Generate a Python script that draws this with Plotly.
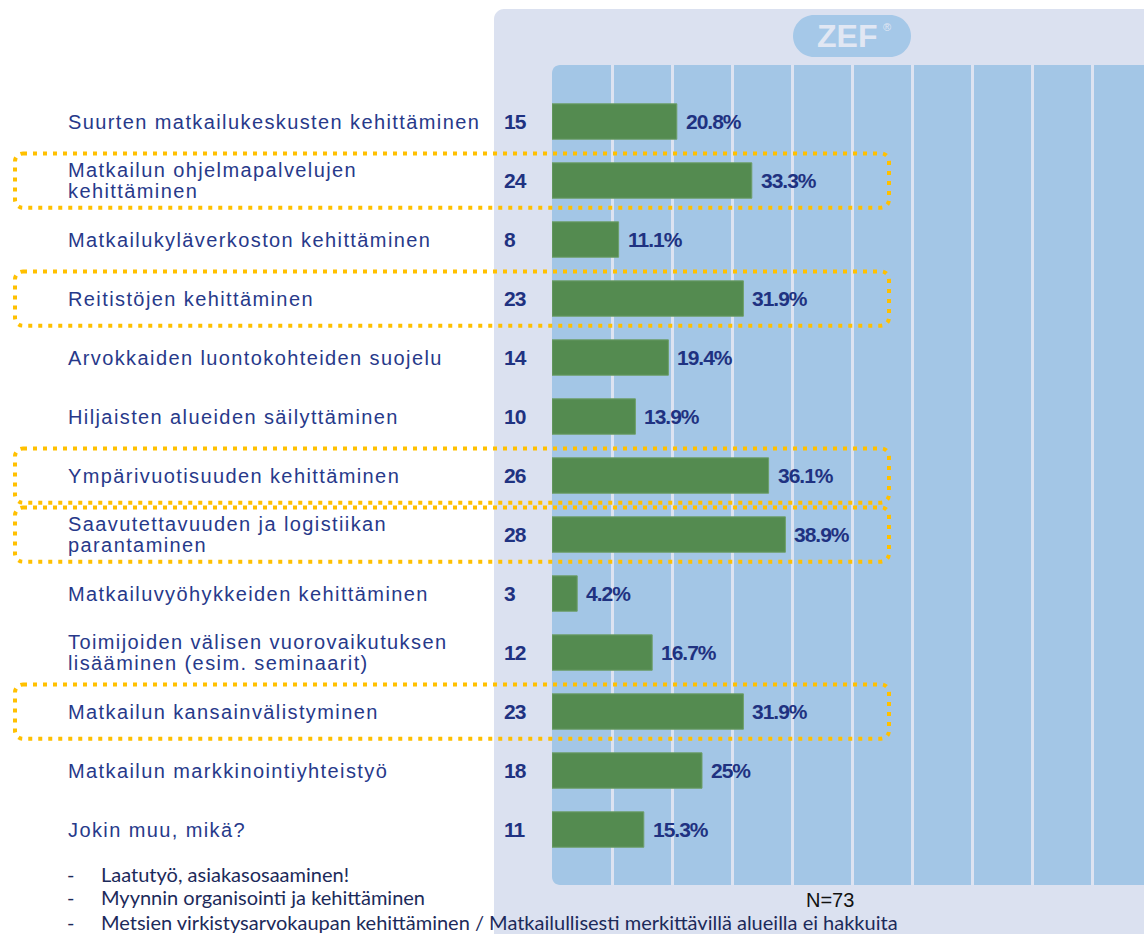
import plotly.graph_objects as go

# ---------------- data ----------------
categories = [
    "Suurten matkailukeskusten kehittäminen",
    "Matkailun ohjelmapalvelujen<br>kehittäminen",
    "Matkailukyläverkoston kehittäminen",
    "Reitistöjen kehittäminen",
    "Arvokkaiden luontokohteiden suojelu",
    "Hiljaisten alueiden säilyttäminen",
    "Ympärivuotisuuden kehittäminen",
    "Saavutettavuuden ja logistiikan<br>parantaminen",
    "Matkailuvyöhykkeiden kehittäminen",
    "Toimijoiden välisen vuorovaikutuksen<br>lisääminen (esim. seminaarit)",
    "Matkailun kansainvälistyminen",
    "Matkailun markkinointiyhteistyö",
    "Jokin muu, mikä?",
]
counts = [15, 24, 8, 23, 14, 10, 26, 28, 3, 12, 23, 18, 11]
percents = [20.8, 33.3, 11.1, 31.9, 19.4, 13.9, 36.1, 38.9, 4.2, 16.7, 31.9, 25, 15.3]
pct_labels = ["20.8%", "33.3%", "11.1%", "31.9%", "19.4%", "13.9%", "36.1%",
              "38.9%", "4.2%", "16.7%", "31.9%", "25%", "15.3%"]
highlighted_rows = [1, 3, 6, 7, 10]
comments = [
    "Laatutyö, asiakasosaaminen!",
    "Myynnin organisointi ja kehittäminen",
    "Metsien virkistysarvokaupan kehittäminen / Matkailullisesti merkittävillä alueilla ei hakkuita",
]
respondents_label = "N=73"
grid_ticks = [10, 20, 30, 40, 50, 60, 70, 80, 90]

# ---------------- styles ----------------
W, H = 1144, 934
ML, MR, MT, MB = 552, 0, 65, 49
PW, PH = W - ML - MR, H - MT - MB
X_MAX = PW / 6.0
Y_TOP, Y_BOT = -0.958, 12.94

PANEL = "#dbe1f0"
PLOT_BG = "#a3c6e6"
GRID = "#dde3f1"
BAR = "#548b50"
BAR_EDGE = "#6e9f6a"
NAVY = "#27398a"
NAVY_B = "#1f3281"
GOLD = "#ffc000"
K = 0.5523


def px(x):
    return (x - ML) / PW


def py(y):
    return (H - MB - y) / PH


def rounded_path(x0, y0, x1, y1, rx, ry, corners=(1, 1, 1, 1)):
    """x0<x1; y0 = top edge, y1 = bottom edge in target units."""
    s = 1 if y1 > y0 else -1
    tl, tr, br, bl = [(rx * c, ry * c) for c in corners]
    p = []
    p.append(f"M{x0 + tl[0]},{y0}")
    p.append(f"L{x1 - tr[0]},{y0}")
    p.append(f"C{x1 - tr[0] + K * tr[0]},{y0} {x1},{y0 + s * tr[1] * (1 - K)} {x1},{y0 + s * tr[1]}")
    p.append(f"L{x1},{y1 - s * br[1]}")
    p.append(f"C{x1},{y1 - s * br[1] * (1 - K)} {x1 - br[0] * (1 - K)},{y1} {x1 - br[0]},{y1}")
    p.append(f"L{x0 + bl[0]},{y1}")
    p.append(f"C{x0 + bl[0] * (1 - K)},{y1} {x0},{y1 - s * bl[1] * (1 - K)} {x0},{y1 - s * bl[1]}")
    p.append(f"L{x0},{y0 + s * tl[1]}")
    p.append(f"C{x0},{y0 + s * tl[1] * (1 - K)} {x0 + tl[0] * (1 - K)},{y0} {x0 + tl[0]},{y0}")
    p.append("Z")
    return " ".join(p)


def prr(x0, y0, x1, y1, r, corners=(1, 1, 1, 1)):
    return rounded_path(px(x0), py(y0), px(x1), py(y1), r / PW, r / PH, corners)


row_ids = list(range(len(categories)))

fig = go.Figure()
fig.add_trace(go.Bar(
    x=percents, y=row_ids, orientation="h", width=0.6,
    marker=dict(color=BAR, line=dict(color=BAR_EDGE, width=1)),
    hoverinfo="skip", showlegend=False,
))

shapes = []
# outer light panel
shapes.append(dict(type="path", xref="paper", yref="paper", layer="below",
                   path=prr(494, 9, 1160, 950, 10, (1, 0, 0, 0)),
                   fillcolor=PANEL, line=dict(width=0)))
# inner plot area
shapes.append(dict(type="path", xref="paper", yref="paper", layer="below",
                   path=prr(552, 65, 1160, 885, 8, (1, 0, 0, 1)),
                   fillcolor=PLOT_BG, line=dict(width=0)))
# ZEF pill
shapes.append(dict(type="path", xref="paper", yref="paper", layer="below",
                   path=prr(793, 15, 911, 57, 21),
                   fillcolor="#a5c8e8", line=dict(width=0)))

# dotted highlight boxes (x in paper, y in data units)
ry_data = 8 / (PH / (Y_BOT - Y_TOP))
for r in highlighted_rows:
    shapes.append(dict(type="path", xref="paper", yref="y", layer="above",
                       path=rounded_path(px(15), r - 0.46, px(889), r + 0.46, 8 / PW, ry_data),
                       fillcolor="rgba(0,0,0,0)",
                       line=dict(color=GOLD, width=4, dash="4px,6px")))

annotations = []
LS = "letter-spacing:1.4px"
NUM_STYLE = "letter-spacing:-1px"
for i, lab in enumerate(categories):
    lines = lab.split("<br>")
    n = len(lines)
    for j, ln in enumerate(lines):
        shift = (n - 1) / 2 * 21 - j * 21
        annotations.append(dict(
            x=px(66), xref="paper", y=i, yref="y", xanchor="left", yanchor="middle",
            yshift=shift, showarrow=False,
            text=f'<span style="{LS}">{ln}</span>',
            font=dict(family="Arial, Liberation Sans, sans-serif", size=20, color=NAVY),
        ))
    annotations.append(dict(
        x=px(502), xref="paper", y=i, yref="y", xanchor="left", yanchor="middle",
        showarrow=False, text=f'<span style="{NUM_STYLE}"><b>{counts[i]}</b></span>',
        font=dict(family="Arial, Liberation Sans, sans-serif", size=21, color=NAVY_B),
    ))
    annotations.append(dict(
        x=percents[i], xref="x", y=i, yref="y", xanchor="left", yanchor="middle",
        xshift=7, showarrow=False, text=f'<span style="{NUM_STYLE}"><b>{pct_labels[i]}</b></span>',
        font=dict(family="Arial, Liberation Sans, sans-serif", size=21, color=NAVY_B),
    ))

# ZEF logo text
annotations.append(dict(x=px(847), y=py(36), xref="paper", yref="paper", showarrow=False,
                        text="<b>ZEF</b>", xanchor="center", yanchor="middle",
                        font=dict(family="Arial, Liberation Sans", size=32, color="#e1e7f3")))
annotations.append(dict(x=px(887), y=py(27), xref="paper", yref="paper", showarrow=False,
                        text="®", xanchor="center", yanchor="middle",
                        font=dict(family="Arial, Liberation Sans", size=11, color="#e1e7f3")))

# comments
comment_y = [874, 897, 922]
for c, yy in zip(comments, comment_y):
    annotations.append(dict(x=px(66), y=py(yy), xref="paper", yref="paper", showarrow=False,
                            text="-", xanchor="left", yanchor="middle", borderpad=0,
                            font=dict(family="Lato, sans-serif", size=20, color="#1c2a5a")))
    annotations.append(dict(x=px(100), y=py(yy), xref="paper", yref="paper", showarrow=False,
                            text=c, xanchor="left", yanchor="middle", borderpad=0,
                            font=dict(family="Lato, sans-serif", size=20, color="#1c2a5a")))

annotations.append(dict(x=px(830), y=py(900), xref="paper", yref="paper", showarrow=False,
                        text=respondents_label, xanchor="center", yanchor="middle", borderpad=0,
                        font=dict(family="Arial, Liberation Sans", size=20, color="#111111")))

fig.update_layout(
    width=W, height=H, autosize=False,
    margin=dict(l=ML, r=MR, t=MT, b=MB, pad=0),
    paper_bgcolor="white", plot_bgcolor="rgba(0,0,0,0)",
    bargap=0.4,
    xaxis=dict(range=[0, X_MAX], tickvals=grid_ticks, showticklabels=False, ticks="",
               showgrid=True, gridcolor=GRID, gridwidth=3, zeroline=False, showline=False,
               fixedrange=True),
    yaxis=dict(range=[Y_BOT, Y_TOP], showticklabels=False, ticks="", showgrid=False,
               zeroline=False, showline=False, fixedrange=True),
    shapes=shapes, annotations=annotations, showlegend=False,
)

fig.write_html("out.html", config={"displayModeBar": False},
               post_script="document.body.style.margin='0';document.body.style.overflow='hidden';")
